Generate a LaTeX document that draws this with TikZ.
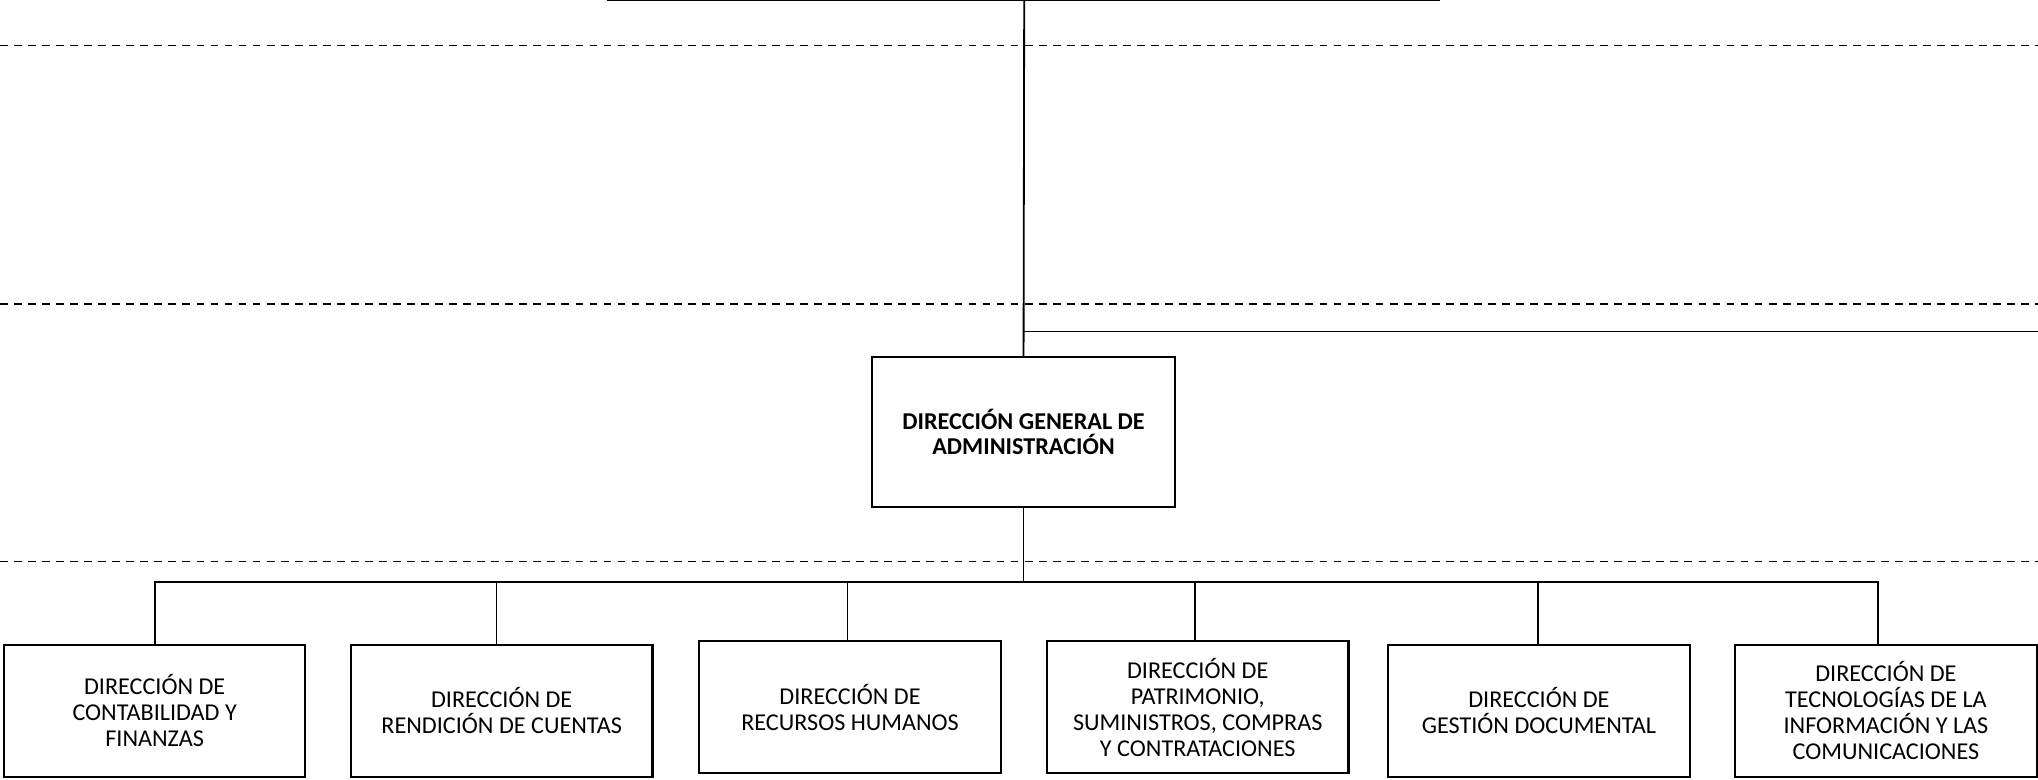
\documentclass[tikz,border=0pt]{standalone}
\usepackage{fontspec}
\setmainfont{Carlito}
\usetikzlibrary{positioning}

\begin{document}
\begin{tikzpicture}[x=1pt, y=-1pt,
	unidad/.style={draw, line width=1.6pt, minimum width=232pt, minimum height=102pt, inner sep=0pt, align=center, font=\fontsize{18.6}{20}\selectfont},
	linea/.style={line width=1.4pt},
	nivel/.style={line width=1.3pt, dash pattern=on 6pt off 4.8pt}]
	\useasboundingbox (0,0) rectangle (1568,600);

	% niveles
	\draw[nivel] (0,35) -- (1568,35);
	\draw[nivel] (0,234) -- (1568,234);
	\draw[nivel] (0,432) -- (1568,432);

	\node[unidad, minimum width=233pt, minimum height=115pt, font=\fontsize{18.6}{19.5}\selectfont\bfseries] (dga) at (787.5,332.5) {DIRECCIÓN GENERAL DE\\ADMINISTRACIÓN};

	\node[unidad] (conta) at (119,547) {DIRECCIÓN DE\\CONTABILIDAD Y\\FINANZAS};
	\node[unidad] (rendi) at (386,547) {DIRECCIÓN DE\\RENDICIÓN DE CUENTAS};
	\node[unidad] (rrhh) at (654,544) {DIRECCIÓN DE\\RECURSOS HUMANOS};
	\node[unidad] (patri) at (921.5,544) {DIRECCIÓN DE\\PATRIMONIO,\\SUMINISTROS, COMPRAS\\Y CONTRATACIONES};
	\node[unidad] (gestion) at (1184,547) {DIRECCIÓN DE\\GESTIÓN DOCUMENTAL};
	\node[unidad] (tic) at (1451,547) {DIRECCIÓN DE\\TECNOLOGÍAS DE LA\\INFORMACIÓN Y LAS\\COMUNICACIONES};

	\coordinate (arriba) at (788,0);
	\coordinate (izq) at (467,0);
	\coordinate (der) at (1108,0);
	\coordinate (lado) at (1568,255);
	\coordinate (bus) at (0,448);

	\draw[linea] (izq) -- (der);
	\draw[linea] (arriba) -- (dga.north);
	\draw[linea] (arriba |- lado) -- (lado);
	\draw[linea] (dga.south) -- (dga.south |- bus);
	\draw[linea] (conta.north) -- (conta.north |- bus) -- ([xshift=-6pt]tic.north |- bus) -- ([xshift=-6pt]tic.north);
	\foreach \n/\d in {rendi/-4, rrhh/-2, patri/-2, gestion/-1}
		\draw[linea] ([xshift=\d pt]\n.north) -- ([xshift=\d pt]\n.north |- bus);
\end{tikzpicture}
\end{document}
